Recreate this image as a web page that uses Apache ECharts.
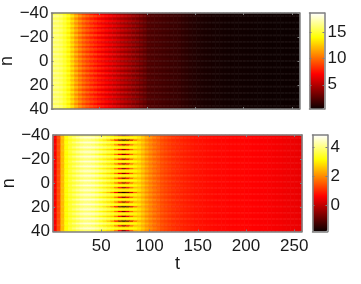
<!DOCTYPE html>
<html><head><meta charset="utf-8">
<script src="https://cdn.jsdelivr.net/npm/echarts@6/dist/echarts.min.js"></script>
<style>html,body{margin:0;padding:0;background:#fff;overflow:hidden}#c{width:361px;height:284px}</style>
</head><body><div id="c"></div>
<script>
const timeSteps = [1,5,9,13,17,21,25,29,33,37,41,45,49,53,57,61,65,69,73,77,81,85,89,93,97,101,105,109,113,117,121,125,129,133,137,141,145,149,153,157,161,165,169,173,177,181,185,189,193,197,201,205,209,213,217,221,225,229,233,237,241,245,249,253,257];
const rowsN = [];
for (let n = -40; n <= 40; n++) rowsN.push(n);

const topCrest = [16.6,16.4,16,15.2,14.4,13.2,12,11,10.2,9.6,9,8.5,8,7.6,7.2,6.8,6.4,6,5.6,5.2,4.8,4.4,4,3.5,3,2.4,2.3,2.2,2.1,2,1.9,1.8,1.7,1.6,1.45,1.3,1.15,1.05,.95,.9,.85,.8,.75,.72,.68,.65,.63,.6,.6,.58,.57,.56,.55,.54,.53,.52,.51,.5,.49,.48,.47,.46,.45,.45,.44];
const topTrough = [15.6,15.6,15.3,14.6,13.6,12.2,10.9,9.9,9.1,8.5,7.9,7.4,6.9,6.5,6.1,5.7,5.3,4.9,4.5,4.2,3.9,3.5,3.2,2.9,2.6,2.2,2.1,2,1.9,1.85,1.75,1.65,1.6,1.5,1.35,1.25,1.1,1,.9,.85,.8,.76,.72,.7,.66,.63,.61,.59,.58,.57,.56,.55,.54,.53,.52,.51,.5,.49,.48,.47,.46,.45,.45,.44,.44];

const botCrest = [.6,1.4,2.5,3.2,3.6,4,4.3,4.5,4.6,4.6,4.55,4.4,4.2,4,3.8,3.6,3.5,3.4,3.35,3.3,3.3,3.2,3,2.7,2.4,2.1,1.9,1.7,1.5,1.4,1.3,1.2,1.1,1.05,1,.95,.9,.85,.82,.8,.78,.76,.74,.72,.72,.7,.7,.7,.7,.7,.68,.68,.66,.65,.63,.62,.6,.58,.56,.55,.52,.5,.48,.46,.44];
const botHalo = [.6,1.4,2.5,3.2,3.5,3.7,3.9,4.1,4.2,4.2,4.15,4,3.8,3.6,3.4,3.2,3,2.85,2.75,2.8,2.9,2.95,2.8,2.5,2.2,1.95,1.75,1.6,1.42,1.32,1.22,1.12,1.05,1,.96,.92,.87,.83,.8,.78,.76,.74,.72,.71,.7,.69,.69,.68,.68,.68,.66,.66,.64,.63,.61,.6,.58,.56,.55,.53,.5,.48,.47,.45,.43];
const botTrough = [.6,1.4,2.5,3.1,3.3,3.4,3.6,3.8,3.9,3.85,3.7,3.5,3.2,3,2.8,2.6,1.8,.6,-.6,.4,1.6,2.4,2.5,2.3,2,1.8,1.6,1.5,1.35,1.25,1.15,1.05,1,.95,.92,.88,.84,.8,.78,.76,.74,.72,.7,.69,.68,.67,.67,.66,.66,.66,.64,.64,.62,.61,.59,.58,.56,.54,.53,.51,.48,.46,.45,.43,.42];
const botDeep = [.6,1.4,2.5,3.1,3.3,3.4,3.6,3.8,3.9,3.85,3.7,3.5,3.2,2.9,2.5,1.8,.6,-.8,-1.6,-1,.2,1.6,2.3,2.3,2,1.8,1.6,1.5,1.35,1.25,1.15,1.05,1,.95,.92,.88,.84,.8,.78,.76,.74,.72,.7,.69,.68,.67,.67,.66,.66,.66,.64,.64,.62,.61,.59,.58,.56,.54,.53,.51,.48,.46,.45,.43,.42];
const deepRows = [-36, 8, 20, 32];

const tTicks = [50, 100, 150, 200, 250];
const nTicks = [-40, -20, 0, 20, 40];
const topBarTicks = [5, 10, 15];
const botBarTicks = [0, 2, 4];
const tMax = 258;
const topRange = [0.4, 18.65];
const botRange = [-1.8, 4.88];

function mod4(n){ return ((n % 4) + 4) % 4; }
function topProfile(n){ return mod4(n) < 2 ? topTrough : topCrest; }
function botProfile(n){
  const m = mod4(n);
  if (m === 0) return deepRows.includes(n) ? botDeep : botTrough;
  return m === 2 ? botCrest : botHalo;
}
function cells(profileOf){
  const out = [];
  rowsN.forEach((n, r) => {
    const p = profileOf(n);
    timeSteps.forEach((t, c) => out.push([c, r, p[c]]));
  });
  return out;
}
const hot = [];
for (let i = 0; i < 64; i++) {
  const f = (i + 1) / 64, k = 3 / 8;
  const r = Math.min(1, f / k), g = Math.min(1, Math.max(0, (f - k) / k)), b = Math.min(1, Math.max(0, (f - 2 * k) / (1 - 2 * k)));
  hot.push('rgb(' + [r, g, b].map(v => Math.round(v * 255)).join(',') + ')');
}

const frame = '#7f7f7f', ink = '#1a1a1a', font = '"Liberation Sans", Arial, sans-serif';
const minus = v => String(v).replace('-', '\u2212');
const panels = [
  {l:51.5, r:299.5, t:13, b:109, cl:309.5, cr:324.5, range:topRange, bar:topBarTicks, xLabels:false, prof:topProfile},
  {l:53, r:302, t:135, b:231.5, cl:312.5, cr:327.5, range:botRange, bar:botBarTicks, xLabels:true, prof:botProfile}
];
const opt = {animation:false, backgroundColor:'#fff', grid:[], xAxis:[], yAxis:[], series:[], visualMap:[]};
const tickOf = vals => ({show:true, inside:true, length:2, customValues:vals, lineStyle:{color:frame, width:1}});
const line = {show:true, onZero:false, lineStyle:{color:frame, width:1.5}};
const lab = {color:ink, fontFamily:font, fontSize:17};
const nameStyle = {color:ink, fontFamily:font, fontSize:18};
function rect(p, l, r){ return {left:l, width:r-l, top:p.t, height:p.b-p.t, containLabel:false, outerBoundsMode:'none'}; }
panels.forEach(p => {
  const g0 = opt.grid.length;
  opt.grid.push(rect(p, p.l, p.r));
  const x0 = opt.xAxis.length, y0 = opt.yAxis.length;
  opt.xAxis.push({type:'category', gridIndex:g0, data:timeSteps, show:false});
  opt.yAxis.push({type:'category', gridIndex:g0, data:rowsN, inverse:true, show:false});
  opt.series.push({type:'heatmap', xAxisIndex:x0, yAxisIndex:y0, data:cells(p.prof), progressive:0, silent:true, z:1, emphasis:{disabled:true}});
  opt.visualMap.push({type:'continuous', show:true, seriesIndex:opt.series.length-1, min:p.range[0], max:p.range[1], inRange:{color:hot},
    left:p.cl, top:p.t, itemWidth:p.cr-p.cl, itemHeight:p.b-p.t, padding:0, text:null, calculable:false, hoverLink:false, z:2});
  const g1 = opt.grid.length;
  opt.grid.push(rect(p, p.l, p.r));
  const common = {gridIndex:g1, type:'value', z:6, splitLine:{show:false}, axisLine:line};
  opt.xAxis.push(Object.assign({}, common, {position:'bottom', min:0, max:tMax, axisTick:tickOf(tTicks),
    axisLabel:Object.assign({show:p.xLabels, customValues:tTicks, margin:6}, lab),
    name:p.xLabels?'t':'', nameLocation:'middle', nameGap:23, nameTextStyle:nameStyle}));
  opt.xAxis.push(Object.assign({}, common, {position:'top', min:0, max:tMax, axisTick:tickOf(tTicks), axisLabel:{show:false}}));
  opt.yAxis.push(Object.assign({}, common, {position:'left', inverse:true, min:-40, max:40, axisTick:tickOf(nTicks),
    axisLabel:Object.assign({customValues:nTicks, formatter:minus, margin:3}, lab),
    name:'n', nameLocation:'middle', nameGap:35, nameMoveOverlap:false, nameTextStyle:nameStyle}));
  opt.yAxis.push(Object.assign({}, common, {position:'right', inverse:true, min:-40, max:40, axisTick:tickOf(nTicks), axisLabel:{show:false}}));
  const g2 = opt.grid.length;
  opt.grid.push(rect(p, p.cl, p.cr));
  const barCommon = {gridIndex:g2, type:'value', z:6, splitLine:{show:false}, axisLine:line};
  opt.xAxis.push(Object.assign({}, barCommon, {position:'bottom', min:0, max:1, axisTick:{show:false}, axisLabel:{show:false}}));
  opt.xAxis.push(Object.assign({}, barCommon, {position:'top', min:0, max:1, axisTick:{show:false}, axisLabel:{show:false}}));
  opt.yAxis.push(Object.assign({}, barCommon, {position:'right', min:p.range[0], max:p.range[1], axisTick:tickOf(p.bar),
    axisLabel:Object.assign({customValues:p.bar, formatter:minus, margin:3}, lab)}));
  opt.yAxis.push(Object.assign({}, barCommon, {position:'left', min:p.range[0], max:p.range[1], axisTick:tickOf(p.bar), axisLabel:{show:false}}));
});
const chart = echarts.init(document.getElementById('c'), null, {renderer:'canvas', width:361, height:284});
chart.setOption(opt);
</script></body></html>
